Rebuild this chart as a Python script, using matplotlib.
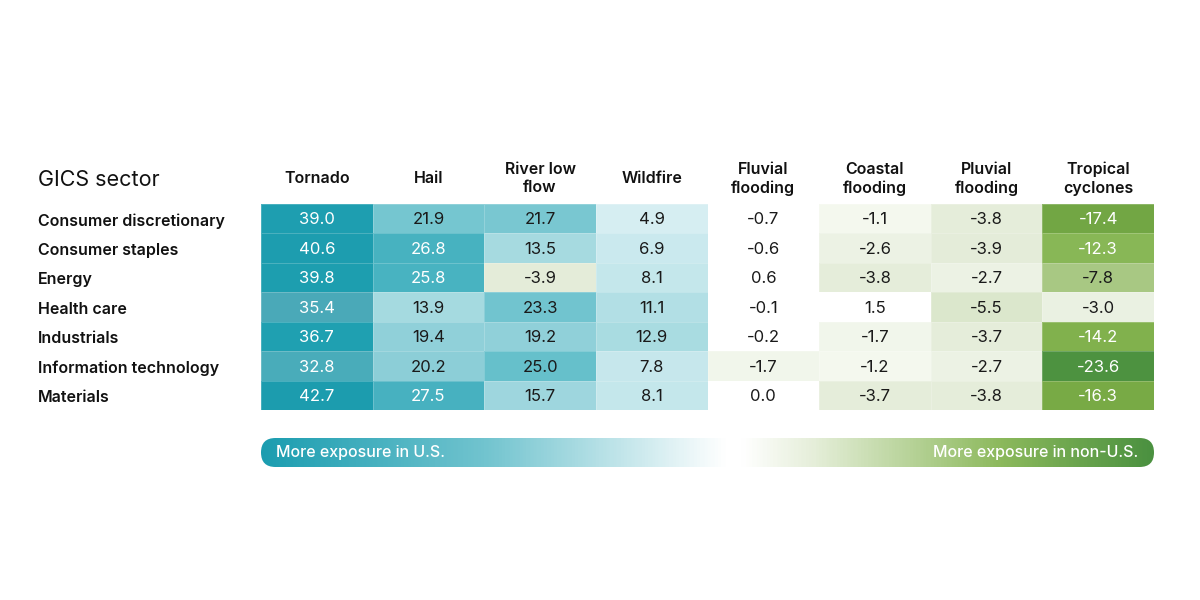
import matplotlib
matplotlib.use('Agg')
import matplotlib.pyplot as plt
import numpy as np
from matplotlib.colors import LinearSegmentedColormap, Normalize
from matplotlib.patches import FancyBboxPatch

plt.rcParams['font.family'] = ['Inter', 'DejaVu Sans']

sectors = ['Consumer discretionary', 'Consumer staples', 'Energy', 'Health care',
           'Industrials', 'Information technology', 'Materials']
hazards = ['Tornado', 'Hail', 'River low\nflow', 'Wildfire', 'Fluvial\nflooding',
           'Coastal\nflooding', 'Pluvial\nflooding', 'Tropical\ncyclones']

tornado  = [39.0, 40.6, 39.8, 35.4, 36.7, 32.8, 42.7]
hail     = [21.9, 26.8, 25.8, 13.9, 19.4, 20.2, 27.5]
river    = [21.7, 13.5, -3.9, 23.3, 19.2, 25.0, 15.7]
wildfire = [4.9, 6.9, 8.1, 11.1, 12.9, 7.8, 8.1]
fluvial  = [-0.7, -0.6, 0.6, -0.1, -0.2, -1.7, 0.0]
coastal  = [-1.1, -2.6, -3.8, 1.5, -1.7, -1.2, -3.7]
pluvial  = [-3.8, -3.9, -2.7, -5.5, -3.7, -2.7, -3.8]
tropical = [-17.4, -12.3, -7.8, -3.0, -14.2, -23.6, -16.3]

values = np.array([tornado, hail, river, wildfire, fluvial, coastal, pluvial, tropical]).T

# diverging scale: green (non-U.S.) -> white -> teal (U.S.)
vmin, vmax = -24.0, 43.0
anchors = [(-24, '#4b9140'), (-16, '#7aab45'), (-12, '#8ab858'), (-7.8, '#a9c985'),
           (-5.5, '#dde8d0'), (-3.8, '#e5edda'), (-2.6, '#edf3e5'), (-1.1, '#f4f8ee'),
           (-0.8, '#ffffff'), (1.6, '#ffffff'), (4.9, '#d6eef2'), (13, '#a8dbe1'),
           (20, '#8ecfd8'), (22, '#75c6d0'), (25, '#6cc2cd'), (25.8, '#48b3c1'),
           (27, '#47b2c0'), (35.5, '#4aa9b8'), (36.5, '#1fa0b1'), (43, '#1c9cae')]
cmap = LinearSegmentedColormap.from_list(
    'exp', [((v - vmin) / (vmax - vmin), c) for v, c in anchors])
norm = Normalize(vmin=vmin, vmax=vmax)

W, H = 1200, 600
fig = plt.figure(figsize=(12, 6), dpi=100)
fig.patch.set_facecolor('white')

left, right, top, bottom = 261, 1154, 204, 410
ax = fig.add_axes([left / W, 1 - bottom / H, (right - left) / W, (bottom - top) / H])
nrow, ncol = values.shape
ax.pcolormesh(np.arange(ncol + 1), np.arange(nrow + 1), values, cmap=cmap, norm=norm,
              edgecolors=(1, 1, 1, 0.2), linewidth=0.6)
ax.set_xlim(0, ncol)
ax.set_ylim(nrow, 0)
ax.axis('off')

for i in range(nrow):
    for j in range(ncol):
        v = values[i, j]
        light = v > 25.5 or v < -10
        ax.text(j + 0.5, i + 0.54, f'{v:.1f}', ha='center', va='center',
                fontsize=12, color='white' if light else '#1a1a1a')
    ax.text(-2.0, i + 0.57, sectors[i], ha='left', va='center', fontsize=11.5,
            fontweight='semibold', color='#111111', clip_on=False)

for j, h in enumerate(hazards):
    ax.text(j + 0.5, -0.86, h, ha='center', va='center', fontsize=11.5,
            fontweight='semibold', color='#111111', linespacing=1.3, clip_on=False)
ax.text(-2.0, -0.82, 'GICS sector', ha='left', va='center', fontsize=15.5,
        color='#111111', clip_on=False)

# exposure legend bar
by0, by1 = 438, 467
bw, bh = right - left, by1 - by0
bax = fig.add_axes([left / W, 1 - by1 / H, bw / W, bh / H])
bax.set_xlim(0, bw)
bax.set_ylim(0, bh)
bax.axis('off')
grad_anchors = [(0.0, '#1b9db0'), (0.25, '#72c4cf'), (0.52, '#ffffff'), (0.54, '#ffffff'),
                (0.62, '#e5eed9'), (0.83, '#8cb95c'), (1.0, '#4b9140')]
gcmap = LinearSegmentedColormap.from_list('bar', grad_anchors)
grad = np.linspace(0, 1, 600).reshape(1, -1)
im = bax.imshow(grad, cmap=gcmap, aspect='auto', extent=(0, bw, 0, bh))
clip = FancyBboxPatch((0, 0), bw, bh, boxstyle=f'round,pad=0,rounding_size={bh / 2}',
                      transform=bax.transData, facecolor='none', edgecolor='none')
bax.add_patch(clip)
im.set_clip_path(clip)
bax.text(15, bh / 2, 'More exposure in U.S.', ha='left', va='center', fontsize=11.5,
         fontweight='medium', color='white')
bax.text(bw - 16, bh / 2, 'More exposure in non-U.S.', ha='right', va='center',
         fontsize=11.5, fontweight='medium', color='white')

fig.savefig('out.png', dpi=100, facecolor='white')
